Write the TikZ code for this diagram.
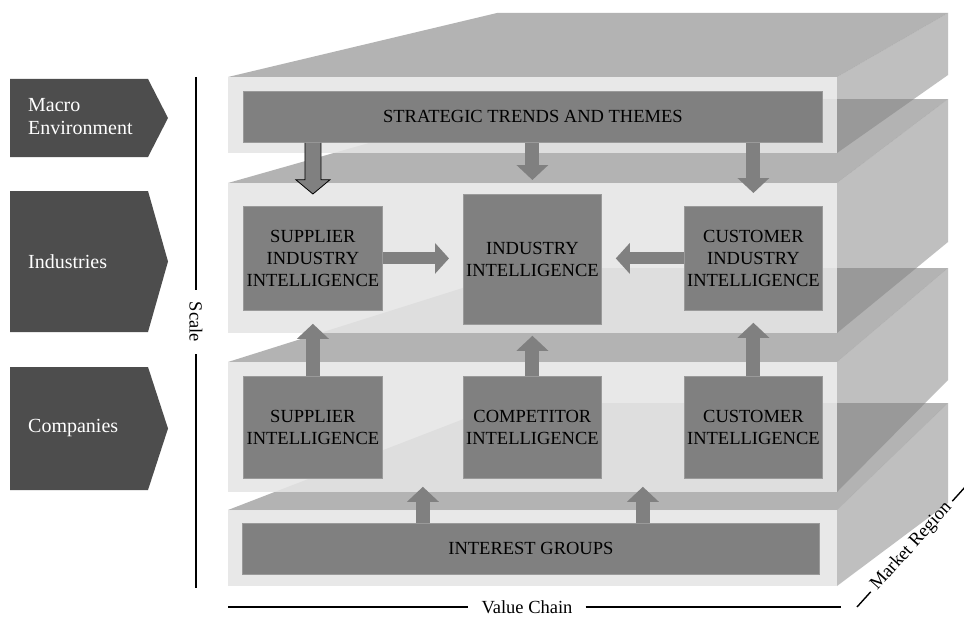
\documentclass[tikz,border=0pt]{standalone}
\usepackage{fontspec}
\setmainfont{Liberation Serif}
\usetikzlibrary{arrows.meta,calc}

\definecolor{topface}{HTML}{B3B3B3}
\definecolor{sideface}{gray}{0.494}
\definecolor{frontface}{gray}{0.898}
\definecolor{boxgray}{HTML}{808080}
\definecolor{boxedge}{HTML}{9A9A9A}
\definecolor{tabgray}{HTML}{4D4D4D}

\tikzset{
  slabtop/.style={fill=topface},
  slabside/.style={fill=sideface, fill opacity=0.49},
  slabfront/.style={fill=frontface, fill opacity=0.87},
  infobox/.style={fill=boxgray, draw=boxedge, line width=0.8pt, inner sep=0pt,
    align=center, text=black, anchor=north west,
    font=\fontsize{18.5}{22}\selectfont},
  blockarrow/.style={draw=boxgray, line width=14pt,
    -{Triangle[width=31pt,length=15pt]}},
  sidearrow/.style={draw=boxgray, line width=12pt,
    -{Triangle[width=30pt,length=14pt]}},
  outlinedarrow/.style={fill=boxgray, draw=black, line width=0.8pt},
  tab/.style={fill=tabgray},
  tablabel/.style={text=white, align=left, anchor=west, inner sep=0pt,
    font=\fontsize{20}{23}\selectfont},
  axislabel/.style={text=black, font=\fontsize{18.5}{22}\selectfont},
  axisline/.style={draw=black, line width=2.8pt},
  thinaxis/.style={draw=black, line width=1.4pt},
}

% one layer of the stack: front top/bottom, back edge, back-left x, back bottom of the side
\newcommand\drawslab[5]{%
  \fill[slabtop] (228,#1) -- (#4,#3) -- (948,#3) -- (837,#1) -- cycle;
  \fill[slabside] (837,#1) -- (948,#3) -- (948,#5) -- (837,#2) -- cycle;
  \fill[slabfront] (228,#1) rectangle (837,#2);
}

\begin{document}
\begin{tikzpicture}[x=1pt, y=-1pt]
  \fill[white] (0,0) rectangle (964,618);
  \useasboundingbox (0,0) rectangle (964,618);

  % stacked layers, lowest first
  \drawslab{510}{586}{403}{505}{503}
  \drawslab{362}{492}{268}{526}{380}
  \drawslab{183}{333}{99}{524}{242}
  \drawslab{77}{153}{13}{497}{75}

  % level tabs
  \fill[tab] (10,79) -- (148,79) -- (168,118) -- (148,157) -- (10,157) -- cycle;
  \fill[tab] (10,191) -- (148,191) -- (168,261.5) -- (148,332) -- (10,332) -- cycle;
  \fill[tab] (10,367) -- (148,367) -- (168,428.5) -- (148,490) -- (10,490) -- cycle;
  \node[tablabel] (macro) at (28,117) {Macro\\Environment};
  \node[tablabel] (industries) at (28,262) {Industries};
  \node[tablabel] (companies) at (28,428) {Companies};

  % intelligence boxes
  \node[infobox, minimum width=579, minimum height=51] (st) at (243,91) {STRATEGIC TRENDS AND THEMES};
  \node[infobox, minimum width=139, minimum height=104] (sii) at (243,206) {SUPPLIER\\INDUSTRY\\INTELLIGENCE};
  \node[infobox, minimum width=138, minimum height=130] (ii) at (463,194) {INDUSTRY\\INTELLIGENCE};
  \node[infobox, minimum width=138, minimum height=104] (cii) at (684,206) {CUSTOMER\\INDUSTRY\\INTELLIGENCE};
  \node[infobox, minimum width=139, minimum height=102] (si) at (243,376) {SUPPLIER\\INTELLIGENCE};
  \node[infobox, minimum width=138, minimum height=102] (ci) at (463,376) {COMPETITOR\\INTELLIGENCE};
  \node[infobox, minimum width=138, minimum height=102] (cu) at (684,376) {CUSTOMER\\INTELLIGENCE};
  \node[infobox, minimum width=577, minimum height=51] (ig) at (242,523) {INTEREST GROUPS};

  % trends feed the industry level
  \draw[outlinedarrow] ($(st.south -| sii.north)+(-8,0)$) -- ++(0,37) -- ++(-9,0)
    -- ($(sii.north)+(0,-12)$) -- ($(st.south -| sii.north)+(17,37)$) -- ++(-9,0) -- ++(0,-37);
  \draw[blockarrow, shorten >=14pt] (st.south -| ii.north) -- (ii.north);
  \draw[blockarrow, shorten >=13pt] (st.south -| cii.north) -- (cii.north);

  % industry level
  \draw[sidearrow, shorten >=14pt] (sii.east) -- (sii.east -| ii.west);
  \draw[sidearrow, shorten >=14pt] (cii.west) -- (cii.west -| ii.east);

  % company level up to industry level
  \draw[blockarrow, shorten >=13pt] (si.north) -- (sii.south);
  \draw[blockarrow, shorten >=11pt] (ci.north) -- (ii.south);
  \draw[blockarrow, shorten >=12pt] (cu.north) -- (cii.south);

  % interest groups
  \coordinate (gapL) at ($(si.south east)!0.5!(ci.south west)$);
  \coordinate (gapR) at ($(ci.south east)!0.5!(cu.south west)$);
  \draw[blockarrow, shorten >=8pt] (ig.north -| gapL) -- (gapL);
  \draw[blockarrow, shorten >=8pt] (ig.north -| gapR) -- (gapR);

  % axes
  \node[axislabel, rotate=-90, inner xsep=12pt] (scale) at (196,322) {Scale};
  \draw[axisline] (196,77) -- (scale.west);
  \draw[axisline] (scale.east) -- (196,588);

  \node[axislabel, inner xsep=13pt] (vc) at (527,607) {Value Chain};
  \draw[axisline] (228,607) -- (vc.west);
  \draw[axisline] (vc.east) -- (841,607);

  \coordinate (mrA) at (857,607);
  \coordinate (mrB) at (966,486);
  \node[axislabel, rotate=48, inner xsep=5pt] (mr) at ($(mrA)!0.5!(mrB)$) {Market Region};
  \draw[thinaxis] (mrA) -- (mr.west);
  \draw[thinaxis] (mr.east) -- (mrB);
\end{tikzpicture}
\end{document}
